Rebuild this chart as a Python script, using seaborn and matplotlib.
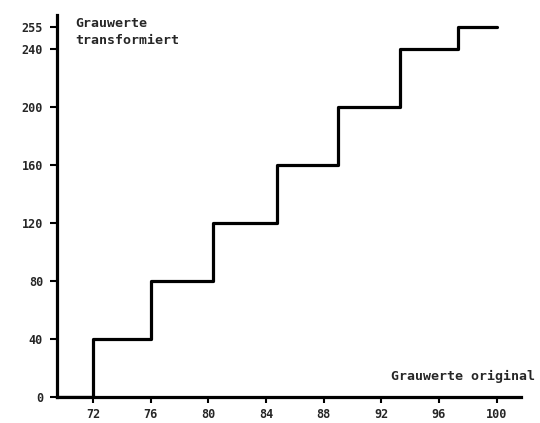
import matplotlib
matplotlib.use("Agg")
import matplotlib.pyplot as plt
import seaborn as sns
import pandas as pd

# data
x_steps = [69.5, 72, 76, 80.3, 84.8, 89.0, 93.3, 97.3, 100]
y_levels = [0, 40, 80, 120, 160, 200, 240, 255, 255]
x_ticks = [72, 76, 80, 84, 88, 92, 96, 100]
y_ticks = [0, 40, 80, 120, 160, 200, 240, 255]
y_label = "Grauwerte\ntransformiert"
x_label = "Grauwerte original"

sns.set_style("white")
plt.rcParams['font.family'] = ['DejaVu Sans Mono', 'DejaVu Sans']

fig = plt.figure(figsize=(5.4, 4.23), dpi=100)
ax = fig.add_axes([57/540, 1-397/423, (521-57)/540, (397-15)/423])

df = pd.DataFrame({"x": x_steps, "y": y_levels})
sns.lineplot(data=df, x="x", y="y", ax=ax, color="black", linewidth=2.3,
             drawstyle="steps-post", sort=False, estimator=None)

ax.set_xlim(69.5, 101.7)
ax.set_ylim(0, 263.5)
ax.set_xticks(x_ticks)
ax.set_yticks(y_ticks)
ax.set_xticklabels([str(t) for t in x_ticks], fontsize=8.5, fontweight="bold")
ax.set_yticklabels([str(t) for t in y_ticks], fontsize=8.5, fontweight="bold")
ax.tick_params(axis="x", direction="out", length=4, width=1.5, color="black", pad=4)
ax.tick_params(axis="y", direction="out", length=5, width=1.5, color="black", pad=5)
ax.tick_params(axis="both", which="both", bottom=True, left=True)
ax.set_xlabel("")
ax.set_ylabel("")
for s in ["top", "right"]:
    ax.spines[s].set_visible(False)
for s in ["left", "bottom"]:
    ax.spines[s].set_linewidth(2.3)
    ax.spines[s].set_color("black")

fig.text(75/540, 1-17/423, y_label, fontsize=9.5,
         fontweight="bold", va="top", ha="left", linespacing=1.45)
fig.text(535/540, 1-376/423, x_label, fontsize=9.5,
         fontweight="bold", va="center", ha="right")

fig.savefig("out.png", dpi=100)
